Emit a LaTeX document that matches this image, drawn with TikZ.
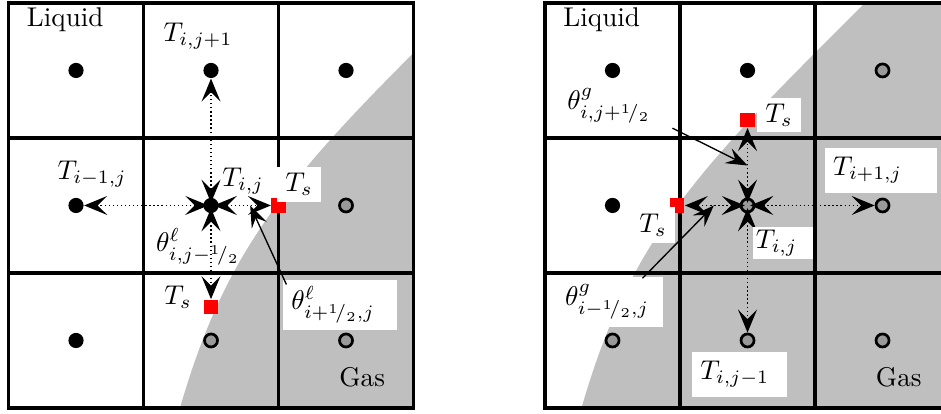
\documentclass[tikz,border=0pt]{standalone}
\usepackage{tikz}
\usetikzlibrary{arrows.meta,calc}
\tikzset{
  meshline/.style={line width=1.2pt},
  gasregion/.style={fill=black!25, draw=none},
  liq/.style={circle, fill=black, minimum size=5.6pt, inner sep=0pt},
  gas/.style={circle, draw=black, line width=1pt, fill=black!40, minimum size=4.8pt, inner sep=0pt},
  iface/.style={rectangle, fill=red, minimum size=5.2pt, inner sep=0pt},
  flux/.style={densely dotted, line width=0.5pt, shorten <=1pt,
    {Stealth[length=8.5pt,width=7pt,inset=3.5pt]}-{Stealth[length=8.5pt,width=7pt,inset=3.5pt]}},
  pointer/.style={line width=0.5pt, -{Stealth[length=8pt,width=6pt,inset=3pt]}},
  lbl/.style={inner sep=0pt},
  tag/.style={fill=white, inner xsep=3pt, inner ysep=0pt, align=left},
}
\newcommand{\MeshGrid}[1]{%
  \foreach \k in {1,2} {
    \draw[meshline] (\k,0) -- (\k,3);
    \draw[meshline] (0,\k) -- (3,\k);
  }
  \draw[meshline] (0,0) rectangle (3,3);
  \node[lbl] (#1liq) at (0.42,2.874) {Liquid};
  \node[lbl] (#1gas) at (2.62,0.23) {Gas};
}
\newcommand{\CellPoints}[2]{%
  \foreach \p [count=\i from 0] in {#2} {
    \pgfmathtruncatemacro{\cx}{mod(\i,3)}
    \pgfmathtruncatemacro{\cy}{2-div(\i,3)}
    \node[\p] (#1\i) at (\cx+0.5,\cy+0.5) {};
  }
}

\begin{document}
\begin{tikzpicture}[x=1.75cm,y=1.75cm]
  \useasboundingbox (-0.063,-0.044) rectangle (6.907,3.022);
  \begin{scope}
    \fill[gasregion] (1.27,0) .. controls (1.589,1.1) and (2.0,1.63) .. (3,2.63) -- (3,0) -- cycle;
    \MeshGrid{L}
    \CellPoints{L}{liq,liq,liq,liq,liq,gas,liq,gas,gas}
    \node[iface] (Lts1) at (2,1.5) {};
    \node[iface] (Lts2) at (1.5,0.75) {};
    \draw[flux] (L4.center) -- (L1);
    \draw[flux] (L4.center) -- (L3);
    \draw[flux] (L4.center) -- (Lts1);
    \draw[flux] (L4.center) -- (Lts2);
    \node[lbl] (Ltn) at (1.404,2.756) {$T_{i,j+1}$};
    \node[lbl] (Ltw) at (0.619,1.733) {$T_{i-1,j}$};
    \node[lbl] (Ltc) at (1.737,1.681) {$T_{i,j}$};
    \node[tag, minimum width=14pt, minimum height=12.9pt] (Ltsa) at (2.152,1.656) {$T_s$};
    \node[lbl] (Ltsb) at (1.256,0.822) {$T_s$};
    \node[lbl] (Lths) at (1.404,1.193) {$\theta^{\ell}_{i,j-{}^1\!/_2}$};
    \node[tag, text width=36pt, minimum height=18.5pt] (Lthe) at (2.456,0.763) {$\theta^{\ell}_{i+{}^1\!/_2,j}$};
    \coordinate (Lmid) at ($(L4.center)!0.58!(Lts1)$);
    \draw[pointer] ([shift={(1.4pt,-1.9pt)}]Lthe.north west) -- (Lmid);
  \end{scope}
  \begin{scope}[shift={(3.974,0)}]
    \fill[gasregion] (0.27,0) .. controls (0.589,1.1) and (1.0,1.63) .. (2.0,2.63) -- (2.37,3) -- (3,3) -- (3,0) -- cycle;
    \MeshGrid{R}
    \CellPoints{R}{liq,liq,gas,liq,gas,gas,gas,gas,gas}
    \node[iface] (Rts1) at (1.5,2.13) {};
    \node[iface] (Rts2) at (0.98,1.5) {};
    \draw[flux] (R4.center) -- (Rts1);
    \draw[flux] (R4.center) -- (Rts2);
    \draw[flux] (R4.center) -- (R5);
    \draw[flux] (R4.center) -- (R7);
    \node[lbl] (Rthn) at (0.474,2.237) {$\theta^{g}_{i,j+{}^1\!/_2}$};
    \node[tag, minimum width=14.8pt, minimum height=12.5pt] (Rtsa) at (1.733,2.17) {$T_s$};
    \node[tag, text width=35.3pt, minimum height=16.6pt] (Rte) at (2.489,1.759) {$T_{i+1,j}$};
    \node[tag, minimum width=14pt, minimum height=13.3pt] (Rtsb) at (0.8,1.356) {$T_s$};
    \node[tag, inner xsep=1pt, text width=20pt, minimum height=11.8pt] (Rtc) at (1.763,1.222) {$T_{i,j}$};
    \node[tag, text width=33pt, minimum height=18.5pt] (Rthw) at (0.481,0.785) {$\theta^{g}_{i-{}^1\!/_2,j}$};
    \node[tag, text width=29pt, minimum height=16.6pt] (Rts) at (1.441,0.248) {$T_{i,j-1}$};
    \coordinate (Rmn) at ($(R4.center)!0.47!(Rts1)$);
    \coordinate (Rmw) at ($(R4.center)!0.48!(Rts2)$);
    \draw[pointer] ([shift={(7.8pt,-1.5pt)}]Rthn.south east) -- (Rmn);
    \draw[pointer] ([shift={(-7.7pt,-0.7pt)}]Rthw.north east) -- (Rmw);
  \end{scope}
\end{tikzpicture}
\end{document}
